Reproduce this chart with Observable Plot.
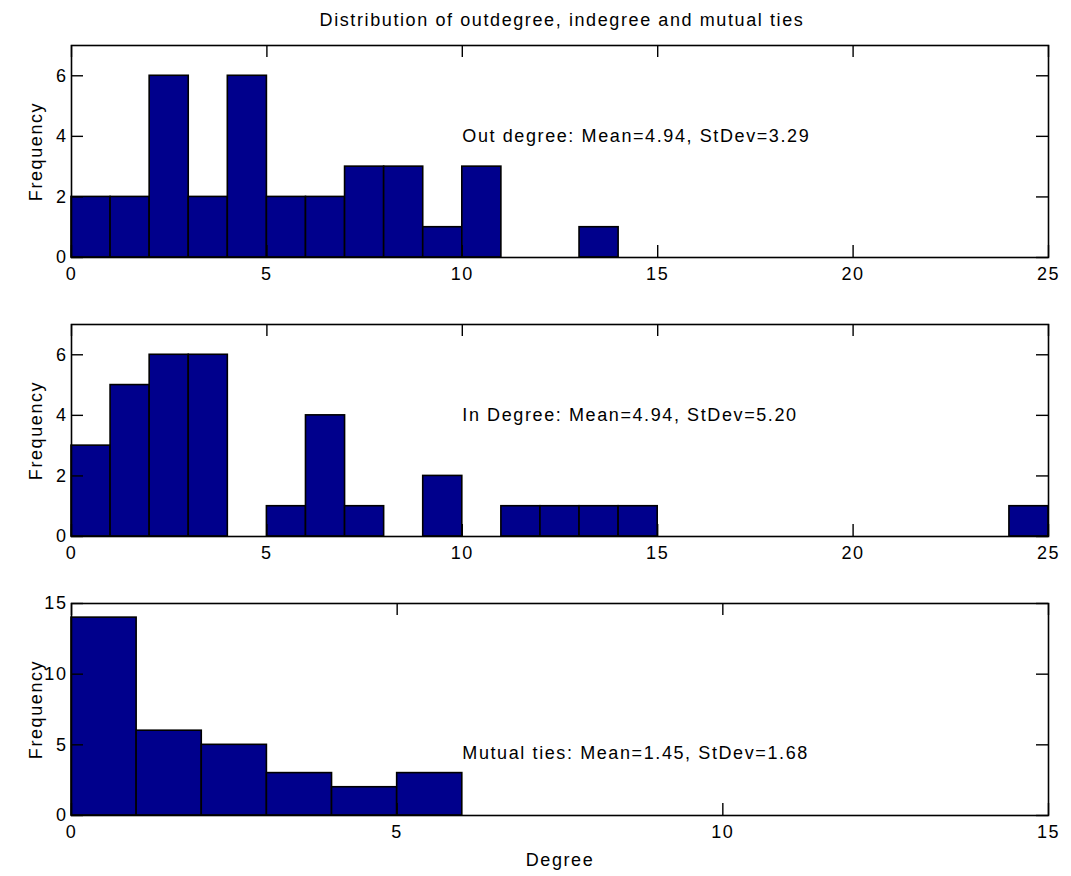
<!DOCTYPE html>
<html>
<head>
<meta charset="utf-8">
<script src="https://cdn.jsdelivr.net/npm/d3@7"></script>
<script src="https://cdn.jsdelivr.net/npm/@observablehq/plot@0.6"></script>
<style>
  html, body { margin: 0; padding: 0; background: #fff; overflow: hidden; }
  #chart { position: relative; width: 1071px; height: 876px; background: #fff;
           font-family: "Liberation Sans", Arial, sans-serif; color: #000; }
  #title { position: absolute; top: 10px; left: 62px; width: 1000px; text-align: center;
           font-size: 18px; letter-spacing: 1.6px; line-height: normal; z-index: 2; }
  .panel { position: absolute; left: 0; z-index: 1; }
</style>
</head>
<body>
<div id="chart">
  <div id="title">Distribution of outdegree, indegree and mutual ties</div>
</div>
<script>
// ---- data (bin counts, bins of width 1 starting at 0) ----
const outDegreeCounts = [2, 2, 6, 2, 6, 2, 2, 3, 3, 1, 3, 0, 0, 1, 0, 0, 0, 0, 0, 0, 0, 0, 0, 0, 0];
const inDegreeCounts  = [3, 5, 6, 6, 0, 1, 4, 1, 0, 2, 0, 1, 1, 1, 1, 0, 0, 0, 0, 0, 0, 0, 0, 0, 1];
const mutualCounts    = [14, 6, 5, 3, 2, 3, 0, 0, 0, 0, 0, 0, 0, 0, 0];

const degreeTicks25 = [0, 5, 10, 15, 20, 25];
const degreeTicks15 = [0, 5, 10, 15];
const freqTicks7 = [0, 2, 4, 6];
const freqTicks15 = [0, 5, 10, 15];

const outNote = ["Out degree: Mean=4.94, StDev=3.29"];
const inNote = ["In Degree: Mean=4.94, StDev=5.20"];
const mutualNote = ["Mutual ties: Mean=1.45, StDev=1.68"];
const yLabel = ["Frequency"];
const xLabel = ["Degree"];

const FONT = "'Liberation Sans', Arial, sans-serif";
const BAR = "#00008c";
const W = 1071, ML = 71, MR = 23, MT = 20, PH = 212;
const innerW = W - ML - MR;

function panel({counts, xMax, yMax, xTicks, yTicks, note, noteX, noteY, mb, top, withXLabel}) {
  const bins = counts.map((c, i) => ({x1: i, x2: i + 1, y: c}));
  const marks = [
    Plot.rectY(bins, {x1: "x1", x2: "x2", y: "y", fill: BAR, stroke: "black", strokeWidth: 1.6}),
    // inward ticks on all four sides
    Plot.tickX(xTicks, {x: d => d, insetTop: PH - 12, stroke: "black", strokeWidth: 1.4}),
    Plot.tickX(xTicks, {x: d => d, insetBottom: PH - 12, stroke: "black", strokeWidth: 1.4}),
    Plot.tickY(yTicks, {y: d => d, insetRight: innerW - 12, stroke: "black", strokeWidth: 1.4}),
    Plot.tickY(yTicks, {y: d => d, insetLeft: innerW - 12, stroke: "black", strokeWidth: 1.4}),
    Plot.axisX({ticks: xTicks, anchor: "bottom", tickSize: 0, tickPadding: 10, tickFormat: d3.format("d"), label: null}),
    Plot.axisY({ticks: yTicks, anchor: "left", tickSize: 0, tickPadding: 4, tickFormat: d3.format("d"), label: null}),
    Plot.frame({stroke: "black", strokeWidth: 1.6}),
    Plot.text(note, {x: noteX, y: noteY, text: d => d, textAnchor: "start", lineAnchor: "middle", fill: "black"}),
    Plot.text(yLabel, {frameAnchor: "left", text: d => d, rotate: -90, dx: -35, lineAnchor: "middle", textAnchor: "middle", fill: "black"})
  ];
  if (withXLabel) {
    marks.push(Plot.text(xLabel, {frameAnchor: "bottom", text: d => d, dy: 38, lineAnchor: "top", textAnchor: "middle", fill: "black"}));
  }
  const svg = Plot.plot({
    width: W,
    height: MT + PH + mb,
    marginLeft: ML, marginRight: MR, marginTop: MT, marginBottom: mb,
    style: {fontFamily: FONT, fontSize: "18px", letterSpacing: "1.6px", color: "black", background: "transparent", overflow: "visible"},
    x: {domain: [0, xMax]},
    y: {domain: [0, yMax]},
    marks
  });
  svg.classList.add("panel");
  svg.style.position = "absolute";
  svg.style.top = (top - MT) + "px";
  svg.style.left = "0px";
  document.getElementById("chart").appendChild(svg);
}

panel({counts: outDegreeCounts, xMax: 25, yMax: 7, xTicks: degreeTicks25, yTicks: freqTicks7,
       note: outNote, noteX: 10, noteY: 4, mb: 40, top: 45, withXLabel: false});
panel({counts: inDegreeCounts, xMax: 25, yMax: 7, xTicks: degreeTicks25, yTicks: freqTicks7,
       note: inNote, noteX: 10, noteY: 4, mb: 40, top: 324, withXLabel: false});
panel({counts: mutualCounts, xMax: 15, yMax: 15, xTicks: degreeTicks15, yTicks: freqTicks15,
       note: mutualNote, noteX: 6, noteY: 4.4, mb: 58, top: 603, withXLabel: true});
</script>
</body>
</html>
